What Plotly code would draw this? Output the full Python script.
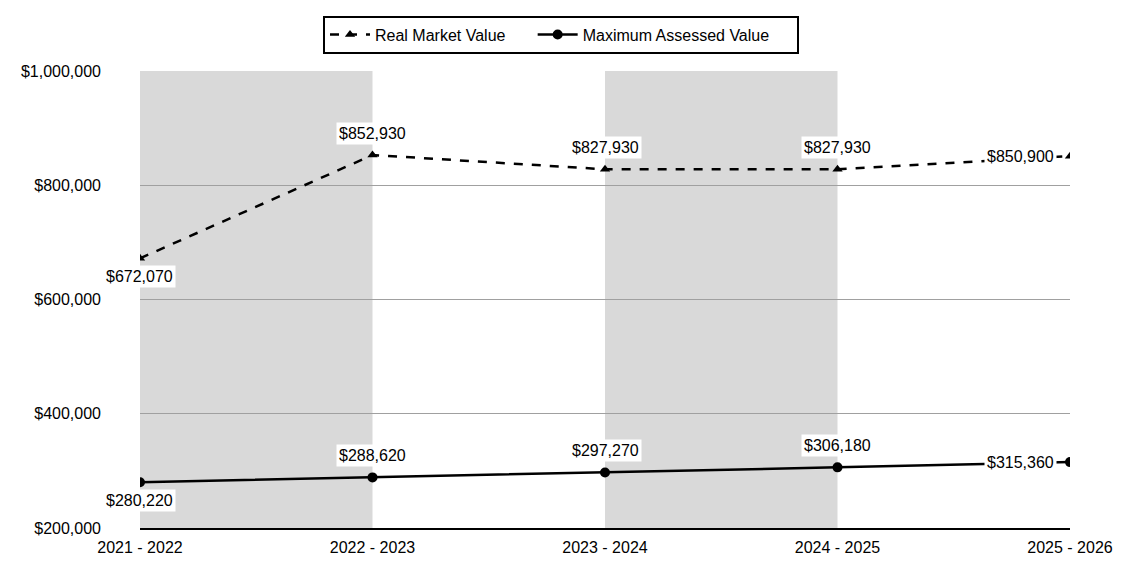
import plotly.graph_objects as go

years = ["2021 - 2022", "2022 - 2023", "2023 - 2024", "2024 - 2025", "2025 - 2026"]
real_market = [672070, 852930, 827930, 827930, 850900]
max_assessed = [280220, 288620, 297270, 306180, 315360]
y_ticks = [200000, 400000, 600000, 800000, 1000000]

xs = list(range(len(years)))
font = dict(family="Liberation Sans, Arial, sans-serif", size=16, color="black")
pad = "\u00a0" * 5

fig = go.Figure()
fig.add_trace(go.Scatter(
    x=xs, y=real_market, mode="lines+markers", name="Real Market Value" + pad,
    line=dict(color="black", width=2.5, dash="dash"),
    marker=dict(symbol="triangle-up", size=9, color="black"),
))
fig.add_trace(go.Scatter(
    x=xs, y=max_assessed, mode="lines+markers", name="Maximum Assessed Value" + pad,
    line=dict(color="black", width=2.5),
    marker=dict(symbol="circle", size=10, color="black"),
))

# shaded alternating bands
for i in range(0, len(years) - 1, 2):
    fig.add_shape(type="rect", xref="x", yref="paper", x0=i, x1=i + 1, y0=0, y1=1,
                  fillcolor="#d9d9d9", line=dict(width=0), layer="below")

pos_real = ["below", "above", "above", "above", "left"]
pos_max = ["below", "above", "above", "above", "left"]

def add_labels(vals, positions):
    for i, (v, p) in enumerate(zip(vals, positions)):
        kw = dict(x=xs[i], y=v, xref="x", yref="y", text=f"${v:,}", showarrow=False,
                  font=font, bgcolor="white", borderpad=2)
        if p == "above":
            kw.update(yshift=22)
        elif p == "below":
            kw.update(yshift=-18, xshift=-1)
        else:
            kw.update(xanchor="right", xshift=-13)
        fig.add_annotation(**kw)

add_labels(real_market, pos_real)
add_labels(max_assessed, pos_max)

fig.update_layout(
    width=1109, height=554,
    margin=dict(l=132, r=47, t=63, b=34, autoexpand=False),
    paper_bgcolor="white", plot_bgcolor="white",
    font=font,
    showlegend=True,
    legend=dict(orientation="h", x=0.4527, y=1.038, xanchor="center", yanchor="bottom",
                bordercolor="black", borderwidth=2, font=font,
                itemwidth=40, tracegroupgap=0),
)
fig.update_xaxes(
    range=[0, len(years) - 1], tickmode="array", tickvals=xs, ticktext=years,
    showgrid=False, zeroline=False, showline=True, linecolor="black", linewidth=2,
    ticks="", tickfont=font, ticklabelstandoff=4, automargin=False,
)
fig.update_yaxes(
    range=[200000, 1000000], tickmode="array", tickvals=y_ticks,
    ticktext=[f"${v:,}" for v in y_ticks], showgrid=True, gridcolor="#a0a0a0",
    gridwidth=1, zeroline=False, showline=False, ticks="", tickfont=font,
    ticklabelstandoff=38, automargin=False,
)

fig.write_html("out.html")
